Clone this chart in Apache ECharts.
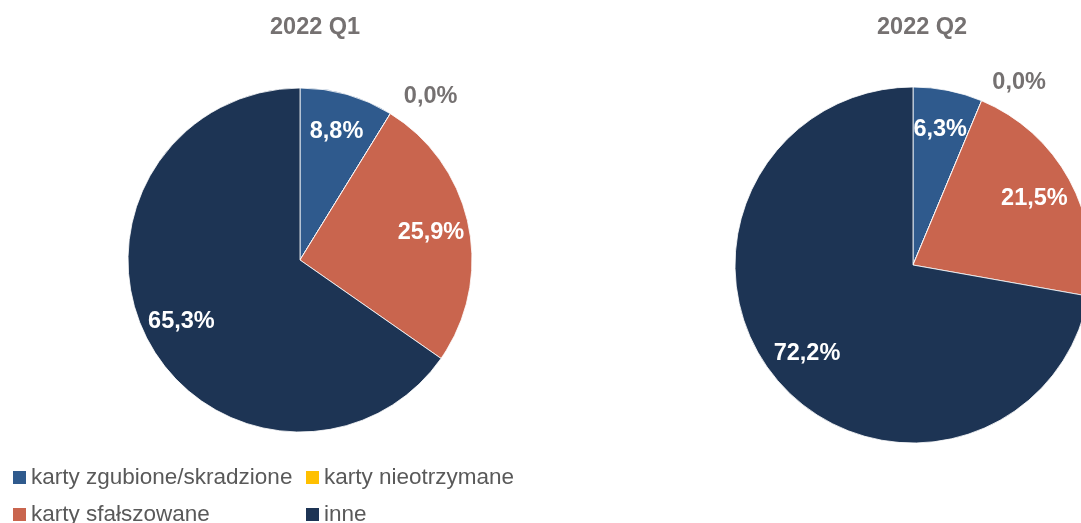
<!DOCTYPE html>
<html>
<head>
<meta charset="utf-8">
<script src="https://cdn.jsdelivr.net/npm/echarts@6/dist/echarts.min.js"></script>
<style>
  html, body { margin: 0; padding: 0; background: #fff; }
  #chart { width: 1081px; height: 523px; }
</style>
</head>
<body>
<div id="chart"></div>
<script>
const categories = ['karty zgubione/skradzione', 'karty nieotrzymane', 'karty sfałszowane', 'inne']
const colors = ['#2F5A8D', '#FFC000', '#C9654E', '#1D3454']
const q1Values = [8.8, 0.0, 25.9, 65.3]
const q2Values = [6.3, 0.0, 21.5, 72.2]
const titles = ['2022 Q1', '2022 Q2']

const font = 'Liberation Sans, Arial, sans-serif'
const grey = '#757171'

const chart = echarts.init(document.getElementById('chart'))

const fmt = p => p.value.toFixed(1).replace('.', ',') + '%'

// visible pie, no labels
const pieSeries = (values, center, r) => ({
  type: 'pie',
  center: center,
  radius: [0, r],
  startAngle: 90,
  silent: true,
  label: { show: false },
  labelLine: { show: false },
  itemStyle: { borderColor: '#fff', borderWidth: 0.8 },
  data: categories.map((name, i) => ({ name: name, value: values[i], itemStyle: { color: colors[i] } }))
})

// transparent ring on top, only to put the labels further out
const labelSeries = (values, center, r) => ({
  type: 'pie',
  center: center,
  radius: [r * 0.52, r],
  startAngle: 90,
  silent: true,
  z: 3,
  avoidLabelOverlap: false,
  itemStyle: { color: 'rgba(0,0,0,0)' },
  label: {
    show: true,
    position: 'inside',
    formatter: fmt,
    color: '#fff',
    fontSize: 23.5,
    fontWeight: 'bold',
    fontFamily: font
  },
  labelLine: { show: false, length: 20, length2: 0 },
  data: categories.map((name, i) => {
    const item = { name: name, value: values[i] }
    if (values[i] === 0) {
      item.label = { position: 'outside', color: grey, distanceToLabelLine: 3 }
      item.labelLine = { show: false, length: 20, length2: 0 }
    }
    return item
  })
})

const legendBase = {
  orient: 'vertical',
  top: 466,
  height: 120,
  padding: 0,
  itemWidth: 13,
  itemHeight: 13,
  itemGap: 14,
  icon: 'rect',
  selectedMode: false,
  textStyle: { color: '#595959', fontSize: 22.5, fontFamily: font }
}

const legendItem = i => ({ name: categories[i], itemStyle: { color: colors[i], borderWidth: 0 } })

chart.setOption({
  animation: false,
  backgroundColor: '#fff',
  title: [
    { text: titles[0], left: 265, top: 11, textStyle: { color: grey, fontSize: 23.5, fontWeight: 'bold', fontFamily: font } },
    { text: titles[1], left: 872, top: 11, textStyle: { color: grey, fontSize: 23.5, fontWeight: 'bold', fontFamily: font } }
  ],
  legend: [
    Object.assign({}, legendBase, { left: 13, data: [0, 2].map(legendItem) }),
    Object.assign({}, legendBase, { left: 306, data: [1, 3].map(legendItem) })
  ],
  series: [
    pieSeries(q1Values, [300, 260], 172),
    pieSeries(q2Values, [913, 265], 178),
    labelSeries(q1Values, [300, 260], 172),
    labelSeries(q2Values, [913, 265], 178)
  ]
})
</script>
</body>
</html>
